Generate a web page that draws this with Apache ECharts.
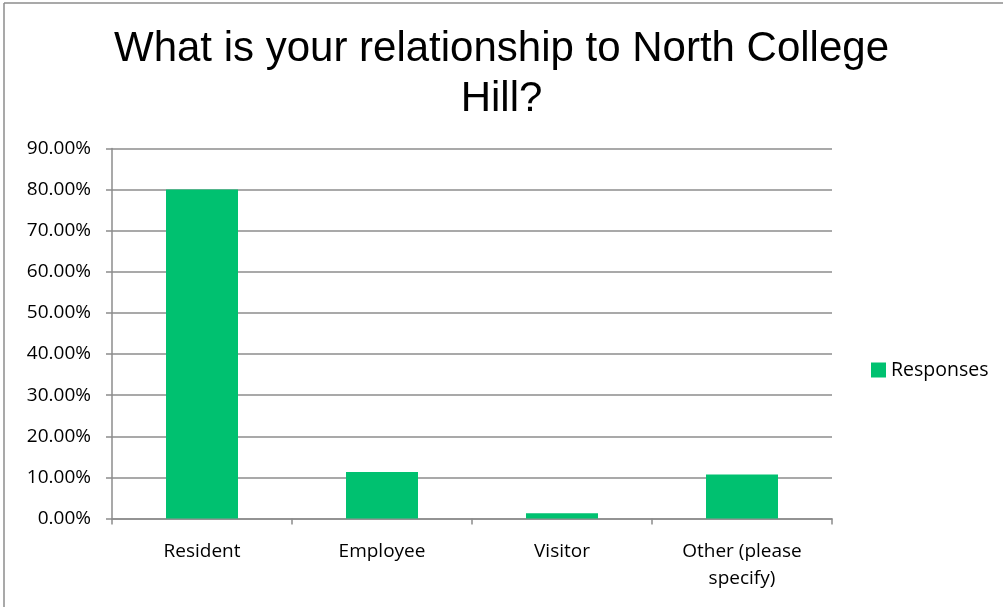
<!DOCTYPE html>
<html>
<head>
<meta charset="utf-8">
<style>
  html, body { margin: 0; padding: 0; background: #ffffff; }
  #chart { width: 1003px; height: 607px; }
</style>
<script src="https://cdn.jsdelivr.net/npm/echarts@6/dist/echarts.min.js"></script>
</head>
<body>
<div id="chart"></div>
<script>
// Survey answers: share of respondents per relationship type
const categories = ['Resident', 'Employee', 'Visitor', 'Other (please\nspecify)'];
const responses = [0.800, 0.113, 0.013, 0.107];
const seriesName = 'Responses';
const titleText = 'What is your relationship to North College\nHill?';

const chart = echarts.init(document.getElementById('chart'), null, { renderer: 'canvas' });

const axisGray = '#8c8c8c';
const labelFont = '"Open Sans", Lato, sans-serif';

chart.setOption({
  backgroundColor: '#ffffff',
  animation: false,
  title: {
    text: titleText,
    left: 'center',
    top: 19,
    textStyle: {
      fontFamily: '"Liberation Sans", Arial, sans-serif',
      fontSize: 42,
      fontWeight: 'normal',
      color: '#000000',
      lineHeight: 50
    }
  },
  legend: {
    data: [seriesName],
    left: 866,
    top: 355,
    orient: 'vertical',
    icon: 'rect',
    itemWidth: 15,
    itemHeight: 15,
    itemGap: 6,
    textStyle: {
      fontFamily: labelFont,
      fontSize: 19.5,
      color: '#000000'
    }
  },
  grid: {
    left: 112,
    right: 171,
    top: 148.5,
    bottom: 88.5,
    containLabel: false
  },
  xAxis: {
    type: 'category',
    data: categories,
    axisLine: { lineStyle: { color: axisGray, width: 1.5 } },
    axisTick: { show: true, alignWithLabel: false, length: 6, lineStyle: { color: axisGray, width: 1.5 } },
    axisLabel: {
      margin: 20,
      fontFamily: labelFont,
      fontSize: 19,
      color: '#000000',
      lineHeight: 27,
      interval: 0
    }
  },
  yAxis: {
    type: 'value',
    min: 0,
    max: 0.9,
    interval: 0.1,
    axisLine: { show: true, lineStyle: { color: axisGray, width: 1.5 } },
    axisTick: { show: true, length: 6, lineStyle: { color: axisGray, width: 1.5 } },
    splitLine: { show: true, lineStyle: { color: axisGray, width: 1.5 } },
    axisLabel: {
      margin: 21,
      fontFamily: labelFont,
      fontSize: 19,
      color: '#000000',
      formatter: v => (v * 100).toFixed(2) + '%'
    }
  },
  series: [{
    name: seriesName,
    type: 'bar',
    data: responses,
    barWidth: '40%',
    itemStyle: { color: '#00c170' }
  }],
  graphic: [
    { type: 'line', shape: { x1: 4, y1: 3, x2: 1003, y2: 3 }, style: { stroke: '#8c8c8c', lineWidth: 1.5 }, silent: true },
    { type: 'line', shape: { x1: 4, y1: 3, x2: 4, y2: 607 }, style: { stroke: '#8c8c8c', lineWidth: 1.5 }, silent: true }
  ]
});
</script>
</body>
</html>
